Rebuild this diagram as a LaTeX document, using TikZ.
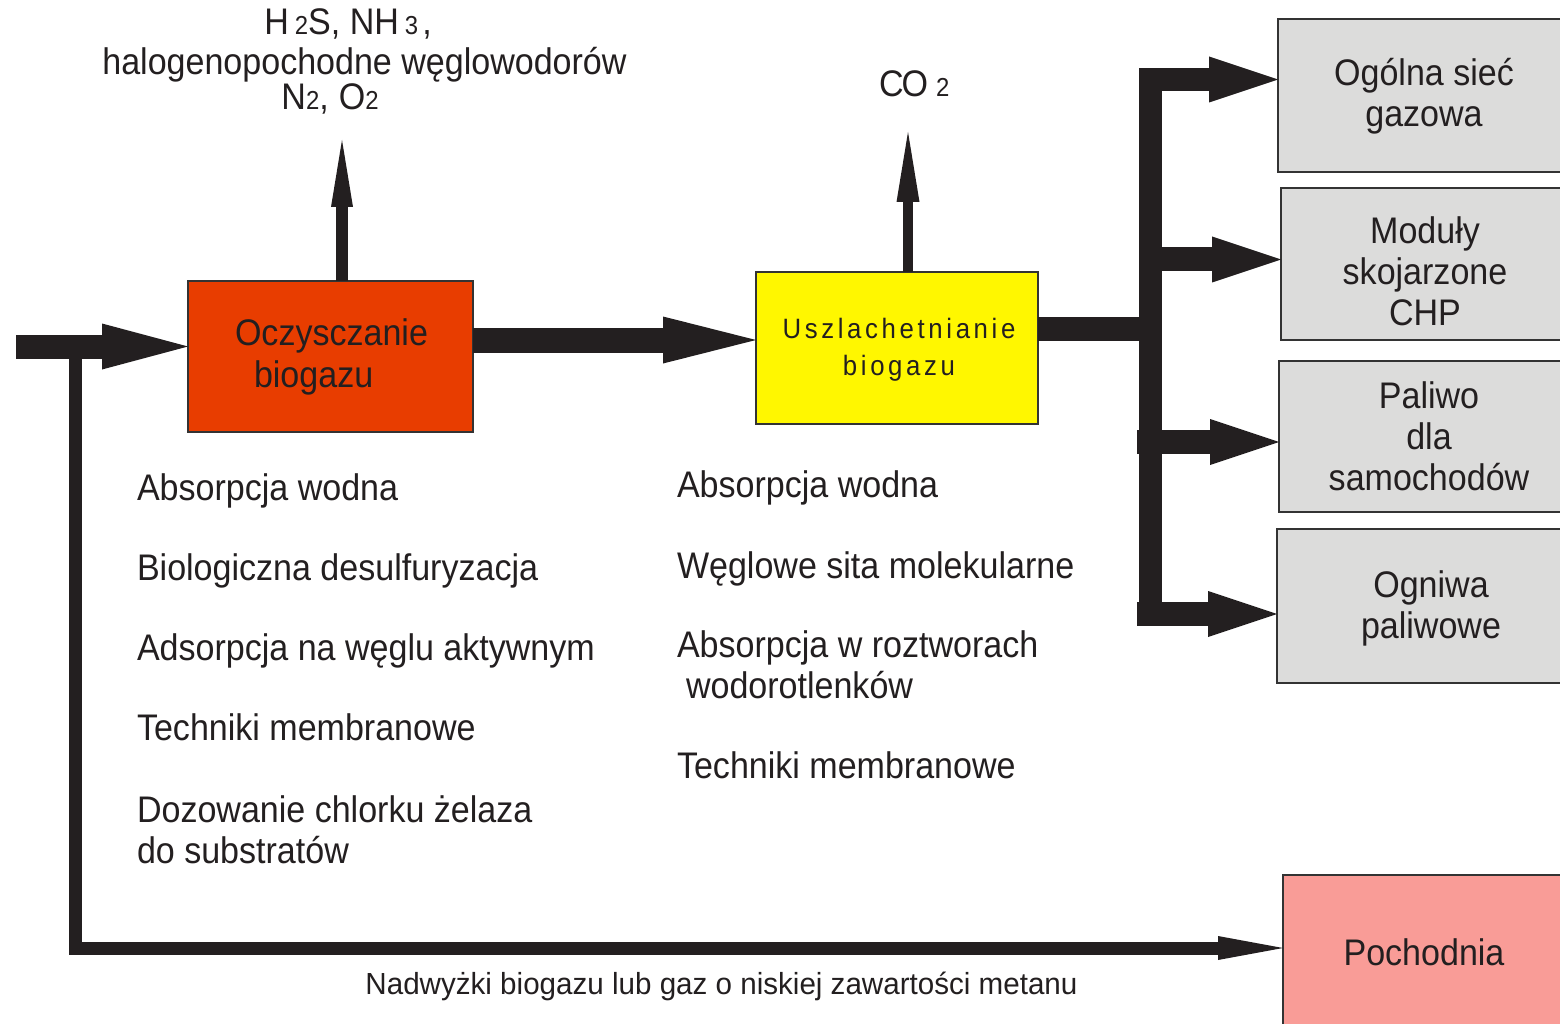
\documentclass[tikz,border=0pt]{standalone}
\usepackage{fontspec}
\setmainfont{Liberation Sans}[FakeStretch=0.92]
\newfontfamily\spacedfont{Liberation Sans}[FakeStretch=0.92,LetterSpace=13]
\newfontfamily\notefont{Liberation Sans}[FakeStretch=0.97]
\usetikzlibrary{arrows.meta}

\definecolor{ink}{HTML}{231F20}
\definecolor{frame}{HTML}{333333}
\definecolor{cleanfill}{HTML}{E83D00}
\definecolor{upgradefill}{HTML}{FFF700}
\definecolor{usefill}{HTML}{DCDCDB}
\definecolor{flarefill}{HTML}{F99C97}

\newcommand\sizeto[2]{\fontsize{#1pt}{#2pt}\selectfont}
\newcommand\lowdigit[1]{{\sizeto{26}{26}#1}}

\tikzset{
  procbox/.style={draw=frame, line width=1.6pt, anchor=north west, inner sep=0pt, outer sep=0pt},
  pipe/.style={draw=ink, line width=#1, line join=miter},
  body/.style={font=\sizeto{37}{41}, text=ink, inner sep=0pt, outer sep=0pt},
  listitem/.style={body, anchor=base west, align=left},
  boxlabel/.style={body, anchor=base, align=center},
  bighead/.style={-{Triangle[length=86pt,width=46pt,line width=0pt]}},
  branchhead/.style={-{Triangle[length=69pt,width=46pt,line width=0pt]}},
}

\begin{document}
\begin{tikzpicture}[x=1pt,y=-1pt]
\useasboundingbox (0,0) rectangle (1560,1024);
\clip (0,0) rectangle (1560,1024);
\fill[white] (0,0) rectangle (1560,1024);

% process boxes
\node[procbox, fill=cleanfill, minimum width=285pt, minimum height=151pt] (clean) at (188,281) {};
\node[procbox, fill=upgradefill, minimum width=282pt, minimum height=152pt] (upgrade) at (756,272) {};

% end uses (partly beyond the right edge)
\node[procbox, fill=usefill, minimum width=292pt, minimum height=153pt] (grid) at (1278,19) {};
\node[procbox, fill=usefill, minimum width=290pt, minimum height=152pt] (chp) at (1281,188) {};
\node[procbox, fill=usefill, minimum width=300pt, minimum height=151pt] (car) at (1279,361) {};
\node[procbox, fill=usefill, minimum width=306pt, minimum height=154pt] (cell) at (1277,529) {};
\node[procbox, fill=flarefill, minimum width=286pt, minimum height=156pt] (flare) at (1283,875) {};

% box labels (a node's base is the baseline of its last line)
\node[listitem, font=\sizeto{37}{42}] (cleanlbl) at (235,387) {Oczysczanie\\\hspace*{19pt}biogazu};
\node[boxlabel, font=\spacedfont\sizeto{28}{37}] (upgradelbl) at (899,375) {Uszlachetnianie\\biogazu};
\node[boxlabel] (gridlbl) at (1424,127) {Ogólna sieć\\gazowa};
\node[boxlabel] (chplbl) at (1425,325) {Moduły\\skojarzone\\CHP};
\node[boxlabel] (carlbl) at (1429,490) {Paliwo\\dla\\samochodów};
\node[boxlabel] (celllbl) at (1431,638) {Ogniwa\\paliwowe};
\node[boxlabel] (flarelbl) at (1424,965) {Pochodnia};

% separated components
\node[body, anchor=base] (gasA) at (348,35) {H\hspace{6pt}\lowdigit{2}S, NH\hspace{6pt}\lowdigit{3}\hspace{4pt},};
\node[body, anchor=base] (gasB) at (364.5,75) {halogenopochodne węglowodorów};
\node[body, anchor=base] (gasC) at (330,110) {N\lowdigit{2},\hspace{10pt}O\lowdigit{2}};
\node[body, anchor=base west] (co2) at (879,97) {C\kern-2pt O\hspace{8pt}\lowdigit{2}};

% cleaning methods
\node[listitem] (m1) at (137,500) {Absorpcja wodna};
\node[listitem] (m2) at (137,580) {Biologiczna desulfuryzacja};
\node[listitem] (m3) at (137,660) {Adsorpcja na węglu aktywnym};
\node[listitem] (m4) at (137,740) {Techniki membranowe};
\node[listitem] (m5) at (137,863) {Dozowanie chlorku żelaza\\do substratów};

% upgrading methods
\node[listitem] (u1) at (677,497) {Absorpcja wodna};
\node[listitem] (u2) at (677,578) {Węglowe sita molekularne};
\node[listitem] (u3) at (677,698) {Absorpcja w roztworach\\\hspace*{9pt}wodorotlenków};
\node[listitem] (u4) at (677,778) {Techniki membranowe};

\node[body, anchor=base, font=\notefont\sizeto{30.5}{30.5}] (surplus) at (721.5,994)
  {Nadwyżki biogazu lub gaz o niskiej zawartości metanu};

% raw biogas in, with bypass to the flare
\coordinate (inlet) at (16,346.5);
\coordinate (tee) at (75.5,346);
\coordinate (elbow) at (75.5,948);
\draw[pipe=13pt, -{Triangle[length=65pt,width=24pt,line width=0pt]}] (tee) -- (elbow) -- (elbow -| flare.west);
\draw[pipe=24pt, bighead] (inlet) -- (inlet -| clean.west);

% cleaning -> upgrading
\coordinate (c1) at ([yshift=16.5pt]clean.east);
\draw[pipe=25pt, -{Triangle[length=93pt,width=47pt,line width=0pt]}] (c1) -- (c1 -| upgrade.west);

% removed gases
\coordinate (c2) at ([xshift=11.5pt]clean.north);
\coordinate (offgas) at (342,140);
\draw[pipe=12pt, -{Triangle[length=67pt,width=22pt,line width=0pt]}] (c2) -- (offgas);
\coordinate (c3) at ([xshift=11pt]upgrade.north);
\coordinate (co2out) at (908,132);
\draw[pipe=10pt, -{Triangle[length=70pt,width=23pt,line width=0pt]}] (c3) -- (co2out);

% distribution to end uses
\coordinate (c4) at ([yshift=19pt]upgrade.east);
\coordinate (junc) at (1150,329);
\coordinate (top) at (1150,79.5);
\coordinate (bot) at (1150,614);
\coordinate (b2) at (1150,259.5);
\coordinate (b3) at (1137,442);
\coordinate (b4) at (1137,614);
\draw[pipe=24pt] (c4) -- (junc);
\draw[pipe=23pt, branchhead] (bot) -- (top) -- (top -| grid.west);
\draw[pipe=24pt, branchhead] (b2) -- (b2 -| chp.west);
\draw[pipe=24pt, branchhead] (b3) -- (b3 -| car.west);
\draw[pipe=24pt, branchhead] (b4) -- (b4 -| cell.west);
\end{tikzpicture}
\end{document}
